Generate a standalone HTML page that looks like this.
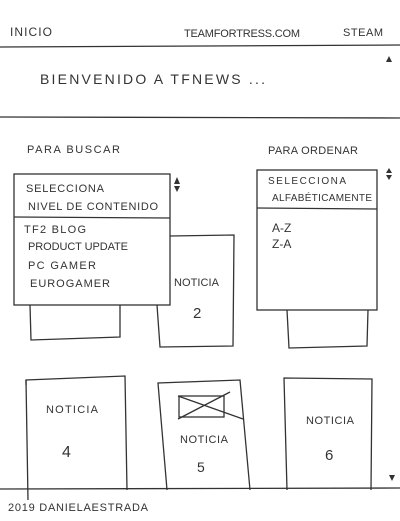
<!DOCTYPE html>
<html><head><meta charset="utf-8"><style>
html,body{margin:0;padding:0;background:#fff;width:400px;height:521px;overflow:hidden}
svg text{font-family:"Liberation Sans",sans-serif;fill:#333;text-transform:uppercase}
</style></head><body>
<svg width="400" height="521" viewBox="0 0 400 521" xmlns="http://www.w3.org/2000/svg" stroke="#333" stroke-width="1.3" fill="none">
<text x="10" y="36" font-size="12" stroke="none" textLength="42">INICIO</text>
<text x="184" y="37" font-size="11" stroke="none" textLength="116">TEAMFORTRESS.COM</text>
<text x="343" y="36" font-size="11" stroke="none" textLength="40">STEAM</text>
<line x1="0" y1="47" x2="400" y2="45"/>
<text x="40" y="84" font-size="14" stroke="none" textLength="225">BIENVENIDO A TFNEWS ...</text>
<path d="M386 62 L389 56 L392 62 Z" fill="#333" stroke="none"/>
<line x1="0" y1="117" x2="400" y2="118"/>
<text x="27" y="153" font-size="11" stroke="none" textLength="93">PARA BUSCAR</text>
<text x="268" y="154" font-size="11" stroke="none" textLength="90">PARA ORDENAR</text>
<rect x="14" y="174" width="156" height="131"/>
<line x1="14" y1="217" x2="170" y2="218"/>
<text x="26" y="192" font-size="11" stroke="none" textLength="78">SELECCIONA</text>
<text x="28" y="210" font-size="11" stroke="none" textLength="130">NIVEL DE CONTENIDO</text>
<text x="24" y="233" font-size="11" stroke="none" textLength="62">TF2 BLOG</text>
<text x="28" y="250" font-size="11" stroke="none" textLength="100">PRODUCT UPDATE</text>
<text x="28" y="269" font-size="11" stroke="none" textLength="68">PC GAMER</text>
<text x="30" y="287" font-size="11" stroke="none" textLength="80">EUROGAMER</text>
<path d="M174 184 L177 177 L180 184 Z M174 186 L177 192 L180 186 Z" fill="#333" stroke="none"/>
<path d="M30 305 L31 340 L120 337 L120 305"/>
<path d="M170 236 L234 235 L233 346 L160 347 L157 305"/>
<text x="174" y="286" font-size="11" stroke="none" textLength="45">NOTICIA</text>
<text x="193" y="318" font-size="15" stroke="none">2</text>
<rect x="257" y="170" width="120" height="140"/>
<line x1="257" y1="208" x2="377" y2="209"/>
<text x="268" y="184" font-size="10" stroke="none" textLength="78">SELECCIONA</text>
<text x="272" y="201" font-size="10" stroke="none" textLength="100">ALFABÉTICAMENTE</text>
<text x="272" y="232" font-size="12" stroke="none">A-Z</text>
<text x="272" y="248" font-size="12" stroke="none">Z-A</text>
<path d="M386 173 L389 168 L392 173 Z M386 175 L389 180 L392 175 Z" fill="#333" stroke="none"/>
<path d="M287 310 L289 348 L367 346 L368 310"/>
<path d="M26 385 L26 380 L125 376 L127 490"/>
<line x1="26" y1="380" x2="28" y2="500"/>
<text x="46" y="413" font-size="11" stroke="none" textLength="52">NOTICIA</text>
<text x="62" y="457" font-size="16" stroke="none">4</text>
<path d="M167 490 L158 383 L240 380 L250 490"/>
<rect x="179" y="396" width="45" height="21"/>
<line x1="178" y1="396" x2="243" y2="419"/>
<line x1="178" y1="419" x2="230" y2="392"/>
<text x="180" y="443" font-size="11" stroke="none" textLength="48">NOTICIA</text>
<text x="197" y="472" font-size="14" stroke="none">5</text>
<path d="M287 490 L284 378 L372 379 L371 490"/>
<text x="306" y="424" font-size="11" stroke="none" textLength="48">NOTICIA</text>
<text x="325" y="460" font-size="15" stroke="none">6</text>
<line x1="0" y1="489" x2="400" y2="488"/>
<path d="M389 475 L395 475 L392 481 Z" fill="#333" stroke="none"/>
<text x="8" y="511" font-size="11" stroke="none" textLength="140">2019 DANIELAESTRADA</text>
</svg>
</body></html>
